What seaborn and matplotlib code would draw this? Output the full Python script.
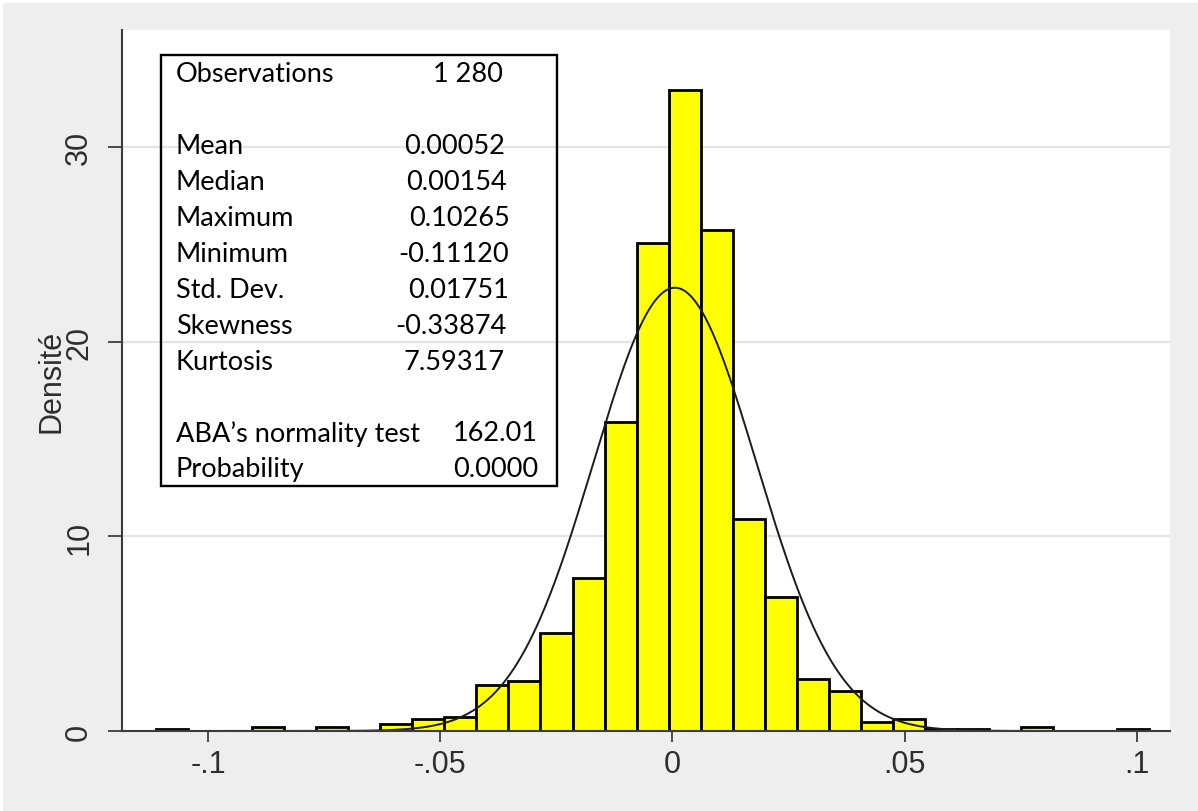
import numpy as np
import pandas as pd
import matplotlib
matplotlib.use("Agg")
import matplotlib.pyplot as plt
from matplotlib.patches import Rectangle
import seaborn as sns

# ---- data -------------------------------------------------------------
x_min, x_max = -0.11120, 0.10265
n_bins = 31
# density of each of the 31 equal-width bins (left to right)
density = [0.11, 0.0, 0.0, 0.23, 0.0, 0.23, 0.0, 0.34, 0.62, 0.72,
           2.36, 2.55, 5.05, 7.85, 15.9, 25.1, 32.95, 25.75, 10.9, 6.88,
           2.65, 2.05, 0.46, 0.60, 0.11, 0.11, 0.0, 0.23, 0.0, 0.0, 0.11]
mean_ret = 0.00052
sd_ret = 0.01751

stat_labels = ["Observations", "", "Mean", "Median", "Maximum", "Minimum",
               "Std. Dev.", "Skewness", "Kurtosis", "",
               "ABA\u2019s normality test", "Probability"]
stat_values = ["1 280", "", "0.00052", "0.00154", "0.10265", "-0.11120",
               "0.01751", "-0.33874", "7.59317", "", "162.01", "0.0000"]

x_ticks = [-0.1, -0.05, 0.0, 0.05, 0.1]
x_tick_labels = ["-.1", "-.05", "0", ".05", ".1"]
y_ticks = [0, 10, 20, 30]
y_tick_labels = ["0", "10", "20", "30"]
y_label = "Densité"

# ---- style ------------------------------------------------------------
sns.set_style("white")
plt.rcParams["font.family"] = ["Liberation Sans", "DejaVu Sans"]

W, H = 1198, 812
fig = plt.figure(figsize=(W / 100, H / 100), dpi=100, facecolor="white")
fig.patches.append(Rectangle((3 / W, 0), 1, 1 - 4 / H, transform=fig.transFigure,
                             facecolor="#EEEEEE", edgecolor="none", zorder=-10))
ax = fig.add_axes([122 / W, 1 - 732 / H, (1170 - 122) / W, (732 - 31) / H])
ax.set_facecolor("white")

width = (x_max - x_min) / n_bins
mids = x_min + width * (np.arange(n_bins) + 0.5)
df = pd.DataFrame({"rendement": mids, "densite": density})

sns.histplot(data=df, x="rendement", weights="densite", bins=n_bins,
             binrange=(x_min, x_max), stat="count",
             color="#FFFF00", edgecolor="black", linewidth=2.0, alpha=1,
             ax=ax, zorder=2)
for p in ax.patches:
    if p.get_height() == 0:
        p.set_visible(False)

# normal density with the sample mean and standard deviation
xs = np.linspace(x_min, x_max, 800)
pdf = np.exp(-0.5 * ((xs - mean_ret) / sd_ret) ** 2) / (sd_ret * np.sqrt(2 * np.pi))
sns.lineplot(x=xs, y=pdf, color="#1c1c1c", linewidth=1.4, ax=ax, zorder=3)

ax.set_xlim(-0.1185, 0.1071)
ax.set_ylim(0, 36.03)

ax.set_axisbelow(True)
ax.yaxis.grid(True, color="#E4E4E4", linewidth=1.6)
ax.xaxis.grid(False)
for side in ("top", "right"):
    ax.spines[side].set_visible(False)
for side in ("left", "bottom"):
    ax.spines[side].set_color("#3c3c3c")
    ax.spines[side].set_linewidth(1.5)
    ax.spines[side].set_zorder(4)

ax.set_xticks(x_ticks)
ax.set_xticklabels(x_tick_labels)
ax.set_yticks(y_ticks)
ax.set_yticklabels(y_tick_labels, rotation=90, va="center")
ax.tick_params(axis="x", direction="out", length=8, width=1.3, color="#3c3c3c",
               pad=5, labelsize=22, labelcolor="#2e2e2e", bottom=True)
ax.tick_params(axis="y", direction="out", length=10, width=1.3, color="#3c3c3c",
               pad=10, labelsize=22, labelcolor="#2e2e2e", left=True)

ax.set_xlabel("")
ax.set_ylabel(y_label, fontsize=22, color="#2e2e2e")
ax.yaxis.set_label_coords((66 - 122) / (1170 - 122), 0.5)

# ---- summary statistics box ------------------------------------------
fig.patches.append(Rectangle((161 / W, 1 - 487 / H), (557 - 161) / W, (487 - 56) / H,
                             transform=fig.transFigure, fill=False,
                             edgecolor="black", linewidth=1.7, zorder=5))
value_right = [503, 0, 505, 507, 510, 509, 509, 507, 505, 0, 538, 538]
for i, (lab, val) in enumerate(zip(stat_labels, stat_values)):
    y = 1 - (75 + 35.9 * i) / H
    if lab:
        fig.text(176 / W, y, lab, fontsize=19.5, family=["Lato", "DejaVu Sans"],
                 ha="left", va="center", color="black", zorder=6)
    if val:
        fig.text(value_right[i] / W, y, val, fontsize=19.5, family=["Lato", "DejaVu Sans"],
                 ha="right", va="center", color="black", zorder=6)

fig.savefig("out.png", dpi=100, facecolor=fig.get_facecolor())
